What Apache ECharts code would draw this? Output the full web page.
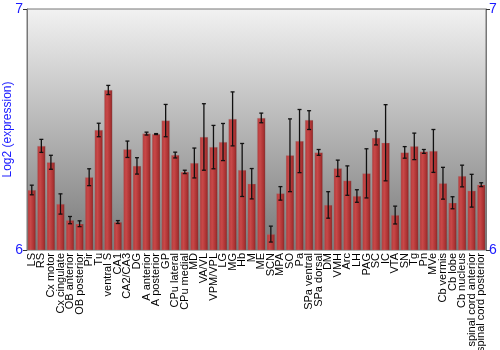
<!DOCTYPE html>
<html>
<head>
<meta charset="utf-8">
<script src="https://cdn.jsdelivr.net/npm/echarts@6/dist/echarts.min.js"></script>
<style>html,body{margin:0;padding:0;background:#fff}#c{width:500px;height:350px}</style>
</head>
<body>
<div id="c"></div>
<script>
const categories = ["LS","RS","Cx motor","Cx cingulate","OB anterior","OB posterior","Pir","Tu","ventral S","CA1","CA2/CA3","DG","A anterior","A posterior","GP","CPu lateral","CPu medial","MD","VA/VL","VPM/VPL","LG","MG","Hb","M","ME","SCN","MPA","SO","Pa","SPa ventral","SPa dorsal","DM","VMH","Arc","LH","PAG","SC","IC","VTA","SN","Tg","Pn","MVe","Cb vermis","Cb lobe","Cb nucleus","spinal cord anterior","spinal cord posterior"];
const values = [6.249,6.432,6.364,6.191,6.124,6.109,6.302,6.498,6.664,6.116,6.418,6.349,6.483,6.481,6.537,6.394,6.324,6.361,6.469,6.427,6.448,6.544,6.332,6.275,6.548,6.066,6.235,6.393,6.452,6.539,6.405,6.187,6.339,6.288,6.224,6.318,6.465,6.445,6.145,6.405,6.430,6.409,6.411,6.277,6.196,6.307,6.246,6.271];
const errors = [0.020,0.027,0.029,0.042,0.015,0.012,0.035,0.028,0.019,0.006,0.034,0.034,0.006,0.002,0.067,0.012,0.007,0.062,0.138,0.090,0.077,0.112,0.110,0.063,0.020,0.033,0.028,0.151,0.131,0.039,0.012,0.055,0.034,0.061,0.026,0.102,0.029,0.158,0.037,0.024,0.055,0.008,0.089,0.066,0.025,0.045,0.068,0.008];
const yTicks = [6, 7];

const chart = echarts.init(document.getElementById('c'), null, {renderer:'canvas'});
const errData = values.map((v,i)=>[i, v - errors[i], v + errors[i]]);
const blue = '#1a1aff';
const ff = 'Liberation Sans, Arial, sans-serif';
chart.setOption({
  animation:false,
  grid:{left:27,right:14,top:9,bottom:100,containLabel:false,outerBoundsMode:'none',show:true,borderColor:'#777',borderWidth:1,
    backgroundColor:new echarts.graphic.LinearGradient(0,0,0,1,[{offset:0,color:'#f2f2f2'},{offset:1,color:'#787878'}])},
  xAxis:{type:'category',data:categories,
    axisLine:{show:false},axisTick:{show:false},
    axisLabel:{rotate:90,interval:0,margin:3,color:'#000',fontFamily:ff,fontSize:11,hideOverlap:false}},
  yAxis:[
    {type:'value',min:yTicks[0],max:yTicks[1],interval:1,position:'left',
     name:'Log2 (expression)',nameLocation:'middle',nameGap:13,nameMoveOverlap:false,
     nameTextStyle:{color:blue,fontSize:12,fontFamily:ff},
     axisLine:{show:true,lineStyle:{color:'#777'}},axisTick:{show:true,length:4,lineStyle:{color:'#333'}},
     splitLine:{show:false},
     axisLabel:{color:blue,fontSize:14,margin:4,fontFamily:ff}},
    {type:'value',min:yTicks[0],max:yTicks[1],interval:1,position:'right',
     axisLine:{show:true,lineStyle:{color:'#777'}},axisTick:{show:true,length:4,lineStyle:{color:'#333'}},
     splitLine:{show:false},
     axisLabel:{color:blue,fontSize:14,margin:3,fontFamily:ff}}
  ],
  series:[
    {type:'bar',data:values,barCategoryGap:'14%',
     itemStyle:{borderColor:'rgba(150,150,150,0.5)',borderWidth:0.5,
       color:new echarts.graphic.LinearGradient(0,0,1,0,[{offset:0,color:'#b23a3a'},{offset:0.35,color:'#c84848'},{offset:0.8,color:'#a83030'},{offset:1,color:'#7e1e1e'}])}},
    {type:'custom',data:errData,z:10,
     renderItem:function(params,api){
       const x = api.coord([api.value(0),api.value(1)])[0];
       const lo = api.coord([api.value(0),api.value(1)])[1];
       const hi = api.coord([api.value(0),api.value(2)])[1];
       const w = 2;
       const st = {stroke:'#111',lineWidth:1.3};
       return {type:'group',children:[
         {type:'line',shape:{x1:x,y1:hi,x2:x,y2:lo},style:st},
         {type:'line',shape:{x1:x-w,y1:hi,x2:x+w,y2:hi},style:st},
         {type:'line',shape:{x1:x-w,y1:lo,x2:x+w,y2:lo},style:st}
       ]};
     }}
  ]
});
</script>
</body>
</html>
